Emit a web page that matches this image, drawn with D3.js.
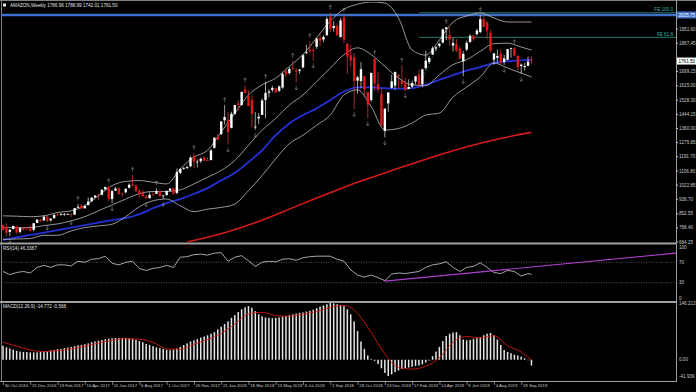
<!DOCTYPE html>
<html>
<head>
<meta charset="utf-8">
<script src="https://cdn.jsdelivr.net/npm/d3@7"></script>
<style>
  body { margin: 0; background: #000; }
  svg { display: block; }
  text { font-family: "Liberation Sans", Arial, sans-serif; }
</style>
</head>
<body>
<div id="chart"></div>
<script>
// ---- data ----
const symbolTitle = "AMAZON,Weekly  1766.96 1788.99 1742.01 1761.50";

const tickLabels = ["30 Oct 2016", "25 Dec 2016", "19 Feb 2017", "16 Apr 2017", "11 Jun 2017",
  "6 Aug 2017", "1 Oct 2017", "26 Nov 2017", "21 Jan 2018", "18 Mar 2018", "13 May 2018",
  "8 Jul 2018", "2 Sep 2018", "28 Oct 2018", "23 Dec 2018", "17 Feb 2019", "14 Apr 2019",
  "9 Jun 2019", "4 Aug 2019", "29 Sep 2019"];

// 1783.30 sits under the current-price box in the reference, so it is left out
const priceTicks = [1951.60, 1867.45, 1699.15, 1615.00, 1528.30, 1444.15, 1360.00,
  1275.85, 1191.70, 1106.80, 1022.85, 938.70, 852.55, 768.40, 684.25];
const rsiTicks = [100, 70, 30, 0];
const macdTicks = [146.213, 0, -41.939];

const opens = [785,774,745,762,777,745,770,763,766,757,
  798,815,813,835,813,826,848,850,847,851,
  851,847,888,899,885,904,927,950,962,966,
  998,1012,940,990,1005,973,980,1007,1028,1020,
  989,977,955,946,967,971,988,957,964,990,
  1004,976,1096,1120,1125,1135,1195,1160,1166,1187,
  1172,1172,1245,1310,1327,1409,1410,1364,1447,1510,
  1500,1592,1554,1530,1368,1420,1441,1530,1573,1590,
  1600,1585,1604,1702,1690,1720,1706,1703,1724,1812,
  1829,1827,1847,1898,1890,1915,2026,1958,1970,1904,
  2021,1864,1796,1784,1645,1643,1671,1577,1530,1775,
  1623,1566,1346,1510,1602,1615,1680,1644,1632,1595,
  1610,1640,1680,1623,1720,1757,1800,1836,1852,1872,
  1953,1917,1854,1862,1837,1760,1830,1876,1912,1922,
  1934,2010,1990,1930,1770,1781,1806,1757,1769,1837,
  1838,1793,1732,1725,1733,1766.96];
const highs = [789,795,760,781,777,770,772,774,782,797,
  821,823,843,843,824,848,858,858,856,854,
  853,887,911,910,906,949,950,961,971,999,
  1013,1016,996,1010,1010,976,1004,1033,1084,1030,
  1000,995,963,980,979,1004,990,965,990,1006,
  1005,1122,1122,1131,1140,1195,1214,1175,1187,1195,
  1190,1236,1308,1327,1403,1499,1458,1460,1500,1528,
  1579,1617,1587,1556,1459,1452,1539,1638,1594,1615,
  1603,1616,1699,1716,1725,1763,1720,1713,1802,1859,
  1880,1844,1901,1925,1916,2025,2050,1999,1985,2017,
  2033,1869,1856,1809,1673,1755,1673,1577,1694,1779,
  1696,1601,1480,1575,1680,1700,1680,1736,1665,1653,
  1645,1673,1710,1716,1823,1792,1850,1849,1870,1955,
  1964,1960,1900,1893,1849,1821,1883,1921,1917,1955,
  2035,2026,2001,1948,1809,1831,1833,1799,1834,1841,
  1844,1795,1748,1752,1788,1788.99];
const lows = [754,720,719,757,735,735,752,756,748,748,
  796,806,811,802,805,825,840,842,840,846,
  833,845,887,882,884,903,922,944,932,962,
  991,927,915,988,967,953,974,1003,1018,982,
  950,953,939,941,962,970,957,941,958,988,
  965,968,1088,1114,1117,1130,1124,1128,1154,1167,
  1166,1170,1241,1290,1320,1384,1265,1360,1442,1469,
  1496,1573,1495,1366,1352,1387,1441,1420,1545,1577,
  1572,1576,1596,1665,1680,1705,1635,1686,1718,1804,
  1813,1766,1834,1851,1874,1913,1935,1936,1911,1904,
  1868,1685,1725,1476,1568,1601,1545,1420,1518,1586,
  1574,1377,1307,1460,1598,1590,1602,1609,1587,1595,
  1600,1621,1608,1606,1710,1745,1800,1821,1841,1865,
  1885,1852,1819,1815,1772,1672,1821,1869,1880,1912,
  1927,1963,1892,1812,1740,1752,1745,1739,1766,1782,
  1790,1705,1685,1705,1732,1742.01];
const closes = [755,739,757,780,741,768,760,760,750,796,
  817,808,835,810,824,846,845,850,852,852,
  845,886,894,884,898,925,949,961,959,995,
  1012,942,987,1003,969,970,1001,1025,1020,987,
  968,958,946,965,965,987,956,961,989,1002,
  972,1100,1120,1125,1130,1187,1162,1163,1180,1168,
  1170,1230,1305,1294,1402,1429,1339,1448,1500,1500,
  1578,1571,1495,1447,1371,1430,1527,1572,1580,1602,
  1575,1610,1684,1683,1715,1715,1699,1711,1796,1813,
  1818,1823,1896,1883,1905,2012,1952,1970,1915,2003,
  1889,1788,1764,1642,1665,1713,1593,1502,1690,1629,
  1591,1377,1478,1575,1640,1696,1671,1626,1588,1607,
  1631,1671,1620,1712,1764,1780,1837,1843,1864,1950,
  1962,1889,1869,1823,1775,1804,1870,1912,1893,1943,
  2011,1964,1943,1823,1807,1792,1750,1777,1833,1839,
  1795,1725,1740,1732,1758,1761.50];

// indicator lines, sampled every 4 weeks
const lineIdx = [0,4,8,12,16,20,24,28,32,36,40,44,48,52,56,60,64,68,72,76,
  80,84,88,92,96,100,104,108,112,116,120,124,128,132,136,140,144,148,152,155];
const bbUpper = [840,838,835,840,860,870,900,960,1020,1045,1050,1040,1030,1120,1190,1230,1340,1450,1560,1620,
  1660,1730,1800,1900,2000,2070,2100,2113,2107,2018,1827,1797,1887,1994,2030,2048,2018,1994,1994,1994];
const bbMiddle = [770,770,770,782,792,810,835,870,905,940,972,985,985,995,1030,1070,1110,1170,1260,1350,
  1420,1500,1560,1640,1720,1800,1840,1800,1730,1660,1620,1615,1680,1740,1770,1820,1865,1868,1845,1827];
const bbLower = [700,702,705,724,724,750,770,780,790,835,894,930,940,900,865,880,890,910,990,1080,
  1180,1270,1320,1380,1440,1560,1590,1490,1351,1360,1393,1440,1452,1547,1607,1667,1750,1720,1690,1667];
const blueMA = [696,712,726,740,755,770,785,800,815,826,850,885,916,940,970,1005,1050,1095,1160,1230,
  1320,1390,1440,1480,1530,1580,1605,1605,1600,1597,1600,1620,1650,1678,1705,1726,1750,1760,1765,1768];
const redIdx = [54,60,66,72,78,84,90,96,102,108,114,120,126,132,138,144,150,155];
const redMA = [684,712,745,785,830,880,930,978,1025,1068,1110,1150,1190,1228,1262,1292,1318,1337];

const upFractals = [22,31,38,45,56,65,71,77,85,90,96,100,109,117,130,140,150];
const downFractals = [2,13,20,32,42,47,66,74,86,91,103,107,112,118,135,147,152];

const hLineLevel = 2035.75;
const feLevels = [{ name: "FE 100.0", value: 2049 }, { name: "FE 61.8", value: 1903 }];
const feStart = 122;
const feLeg = [{ i: 122, p: 1608 }, { i: 130, p: 1964 }];

const rsiIdx = [0,2,4,6,8,10,12,14,16,18,20,22,24,26,28,30,32,34,36,38,40,42,44,46,48,50,
  52,54,56,58,60,62,64,66,68,70,72,74,76,78,80,82,84,86,88,90,92,94,96,98,100,102,104,106,
  108,110,112,114,116,118,120,122,124,126,128,130,132,134,136,138,140,142,144,146,148,150,152,154,155];
const rsiValues = [52,46,50,52,49,60,64,60,65,65,63,72,70,76,77,82,68,65,70,72,58,54,58,60,64,60,
  80,81,85,86,84,88,89,72,80,83,73,62,70,72,71,76,77,74,79,81,82,82,82,76,72,55,45,41,
  45,40,34,47,49,48,50,52,60,65,67,71,60,52,60,62,69,60,50,48,54,52,43,48,46.3387];
const rsiTrend = [{ i: 112, v: 33 }, { i: 197.4, v: 88 }];

const macdHist = [36,32,29,26,23,21,20,20,19,19,
  19,20,21,22,24,25,27,28,30,31,
  33,35,37,38,40,42,45,47,49,51,
  53,54,55,56,56,56,56,55,54,51,
  48,45,41,38,35,32,30,28,26,25,
  26,29,33,38,42,47,50,53,57,60,
  63,67,71,78,85,92,99,108,115,123,
  130,135,138,134,125,117,112,109,108,107,
  108,109,111,113,115,117,119,121,122,124,
  126,129,133,137,140,143,146.213,145,143,141,
  138,130,117,99,74,47,28,11,2,-3,
  -11,-22,-34,-41.939,-38,-32,-28,-24,-22,-20,
  -18,-16,-15,-12,-7,-2,9,21,33,48,
  61,67,70,71,63,52,50,51,54,56,
  58,63,67,69,63,52,38,25,20,17,
  13,11,8,4,0,-14.772];
const signalIdx = lineIdx;
const macdSignal = [45,35,25,21,23,28,35,43,50,54,53,45,28,27,40,52,68,92,118,122,
  114,112,118,124,135,140,120,70,15,-20,-24,-17,5,45,60,56,62,36,20,-0.568];

// ---- layout ----
const W = 696, H = 392;
const plotLeft = 1, plotRight = 676;
const mainTop = 2, mainBottom = 243;
const rsiTop = 245, rsiBottom = 301;
const macdTop = 303, macdBottom = 381;
const grey = "#c8c8c8";
const fs = 4.6;

const x = d3.scaleLinear().domain([0, 197.4]).range([3, plotRight]);
const yMain = d3.scaleLinear().domain([684.25, 2035.75]).range([242, 15]);
const yRsi = d3.scaleLinear().domain([0, 100]).range([298, 247]);
const yMacd = d3.scaleLinear().domain([-41.939, 146.213]).range([376, 303]);

const svg = d3.select("#chart").append("svg")
  .attr("width", W).attr("height", H)
  .style("background", "#000");

const defs = svg.append("defs");
[["clipMain", mainTop, mainBottom], ["clipRsi", rsiTop, rsiBottom], ["clipMacd", macdTop, macdBottom]]
  .forEach(([id, t, b]) => {
    defs.append("clipPath").attr("id", id).append("rect")
      .attr("x", plotLeft).attr("y", t).attr("width", plotRight - plotLeft).attr("height", b - t);
  });

// frame and panel separators
svg.append("line").attr("x1", 0).attr("x2", W).attr("y1", 0.5).attr("y2", 0.5).attr("stroke", "#808080");
svg.append("line").attr("x1", 1.5).attr("x2", 1.5).attr("y1", 0).attr("y2", macdBottom).attr("stroke", "#808080");
svg.append("line").attr("x1", plotRight + 0.5).attr("x2", plotRight + 0.5).attr("y1", 0).attr("y2", macdBottom)
  .attr("stroke", "#a0a0a0");
[mainBottom + 0.5, rsiBottom + 1].forEach(yy => {
  svg.append("line").attr("x1", 0).attr("x2", plotRight + 1).attr("y1", yy).attr("y2", yy)
    .attr("stroke", "#a0a0a0").attr("stroke-width", 2);
});
svg.append("line").attr("x1", 0).attr("x2", plotRight + 1).attr("y1", macdBottom + 0.5).attr("y2", macdBottom + 0.5)
  .attr("stroke", "#a0a0a0");

// ---- main panel ----
const main = svg.append("g").attr("clip-path", "url(#clipMain)");

// horizontal price line and fibo expansion levels
main.append("line")
  .attr("x1", plotLeft).attr("x2", plotRight)
  .attr("y1", yMain(hLineLevel)).attr("y2", yMain(hLineLevel))
  .attr("stroke", "#3f6fc6").attr("stroke-width", 2.5);

feLevels.forEach(lv => {
  main.append("line")
    .attr("x1", x(feStart)).attr("x2", plotRight)
    .attr("y1", yMain(lv.value)).attr("y2", yMain(lv.value))
    .attr("stroke", "#2f9a8f").attr("stroke-width", 0.8);
  main.append("text")
    .attr("x", plotRight - 3).attr("y", yMain(lv.value) - 1.5)
    .attr("text-anchor", "end").attr("font-size", fs).attr("fill", "#3fb0a0")
    .text(lv.name);
});
main.append("path")
  .datum(feLeg)
  .attr("fill", "none").attr("stroke", "#2f9a6f").attr("stroke-width", 0.8)
  .attr("stroke-dasharray", "1,1.5")
  .attr("d", d3.line().x(d => x(d.i)).y(d => yMain(d.p)));

// moving averages and bands
function drawLine(g, idx, vals, yScale, color, width) {
  const pts = idx.map((i, k) => [x(i), yScale(vals[k])]);
  g.append("path")
    .attr("fill", "none").attr("stroke", color).attr("stroke-width", width)
    .attr("d", d3.line().curve(d3.curveMonotoneX)(pts));
}
drawLine(main, redIdx, redMA, yMain, "#d41a1a", 1.6);
drawLine(main, lineIdx, blueMA, yMain, "#2431d8", 1.8);
drawLine(main, lineIdx, bbUpper, yMain, "#bdbdbd", 0.8);
drawLine(main, lineIdx, bbMiddle, yMain, "#bdbdbd", 0.8);
drawLine(main, lineIdx, bbLower, yMain, "#bdbdbd", 0.8);

// candles
const bodyW = 2.4;
const candles = main.append("g");
opens.forEach((o, i) => {
  const c = closes[i];
  const up = c >= o;
  const col = up ? "#ffffff" : "#e01818";
  candles.append("line")
    .attr("x1", x(i)).attr("x2", x(i))
    .attr("y1", yMain(highs[i])).attr("y2", yMain(lows[i]))
    .attr("stroke", up ? "#e8e8e8" : "#e04040").attr("stroke-width", 0.7);
  const top = yMain(Math.max(o, c));
  const h = Math.max(0.8, Math.abs(yMain(o) - yMain(c)));
  candles.append("rect")
    .attr("x", x(i) - bodyW / 2).attr("y", top)
    .attr("width", bodyW).attr("height", h)
    .attr("fill", col);
});

// fractal arrows
const arrowUp = "M0,-2.5L-1.5,-0.5M0,-2.5L1.5,-0.5M0,-2.5V2";
main.selectAll(".fup").data(upFractals).join("path")
  .attr("class", "fup")
  .attr("transform", i => `translate(${x(i)},${yMain(highs[i]) - 5})`)
  .attr("d", arrowUp).attr("stroke", "#a0a0a0").attr("stroke-width", 0.5).attr("fill", "none");
main.selectAll(".fdn").data(downFractals).join("path")
  .attr("class", "fdn")
  .attr("transform", i => `translate(${x(i)},${yMain(lows[i]) + 5}) rotate(180)`)
  .attr("d", arrowUp).attr("stroke", "#a0a0a0").attr("stroke-width", 0.5).attr("fill", "none");

// title
svg.append("rect").attr("x", 3).attr("y", 3.5).attr("width", 3).attr("height", 3).attr("fill", "#e0e0e0");
svg.append("text").attr("x", 10).attr("y", 7).attr("font-size", fs).attr("fill", "#e0e0e0").text(symbolTitle);

// right price axis
const axisG = svg.append("g");
priceTicks.forEach(v => {
  const yy = yMain(v);
  axisG.append("line").attr("x1", plotRight).attr("x2", plotRight + 2).attr("y1", yy).attr("y2", yy).attr("stroke", grey);
  axisG.append("text").attr("x", plotRight + 3).attr("y", yy + 1.6)
    .attr("font-size", fs).attr("fill", grey).text(v.toFixed(2));
});
// highlighted line price and current price
function priceBox(v, bg, fg) {
  const yy = yMain(v);
  axisG.append("rect").attr("x", plotRight + 1).attr("y", yy - 3.5).attr("width", 19).attr("height", 7).attr("fill", bg);
  axisG.append("text").attr("x", plotRight + 2.5).attr("y", yy + 1.6)
    .attr("font-size", fs).attr("fill", fg).text(v.toFixed(2));
}
priceBox(hLineLevel, "#3f6fc6", "#ffffff");
priceBox(closes[closes.length - 1], "#ffffff", "#000000");

// ---- RSI panel ----
const rsiG = svg.append("g").attr("clip-path", "url(#clipRsi)");
[70, 30].forEach(v => {
  rsiG.append("line").attr("x1", plotLeft).attr("x2", plotRight)
    .attr("y1", yRsi(v)).attr("y2", yRsi(v))
    .attr("stroke", "#8a8a8a").attr("stroke-width", 0.6).attr("stroke-dasharray", "1,1.5");
});
rsiG.append("path")
  .attr("fill", "none").attr("stroke", "#d0d0d0").attr("stroke-width", 0.8)
  .attr("d", d3.line()(rsiIdx.map((i, k) => [x(i), yRsi(rsiValues[k])])));
rsiG.append("path")
  .datum(rsiTrend)
  .attr("fill", "none").attr("stroke", "#b040d0").attr("stroke-width", 1.1)
  .attr("d", d3.line().x(d => x(d.i)).y(d => yRsi(d.v)));
svg.append("text").attr("x", 3).attr("y", 250).attr("font-size", fs).attr("fill", "#e0e0e0")
  .text("RSI(14) " + rsiValues[rsiValues.length - 1].toFixed(4));
rsiTicks.forEach(v => {
  svg.append("text").attr("x", plotRight + 3).attr("y", yRsi(v) + 1.6)
    .attr("font-size", fs).attr("fill", grey).text(v);
});

// ---- MACD panel ----
const macdG = svg.append("g").attr("clip-path", "url(#clipMacd)");
macdG.selectAll("rect").data(macdHist).join("rect")
  .attr("x", (d, i) => x(i) - 0.75)
  .attr("y", d => Math.min(yMacd(d), yMacd(0)))
  .attr("width", 1.5)
  .attr("height", d => Math.max(0.5, Math.abs(yMacd(d) - yMacd(0))))
  .attr("fill", "#e6e6e6");
drawLine(macdG, signalIdx, macdSignal, yMacd, "#d01818", 0.9);
svg.append("text").attr("x", 3).attr("y", 308).attr("font-size", fs).attr("fill", "#e0e0e0")
  .text("MACD(12,26,9) " + macdHist[macdHist.length - 1].toFixed(3) + " " + macdSignal[macdSignal.length - 1].toFixed(3));
macdTicks.forEach(v => {
  svg.append("text").attr("x", plotRight + 3).attr("y", yMacd(v) + 1.6)
    .attr("font-size", fs).attr("fill", grey).text(v === 0 ? "0.00" : v.toFixed(3));
});

// ---- time axis ----
const tickIdx = tickLabels.map((_, k) => k * 8);
const xAxis = d3.axisBottom(x)
  .tickValues(tickIdx)
  .tickFormat((d, k) => tickLabels[k])
  .tickSize(4).tickSizeOuter(0);
const xg = svg.append("g").attr("transform", `translate(0,${macdBottom})`).call(xAxis);
xg.select(".domain").remove();
xg.selectAll("line").attr("stroke", grey).attr("stroke-width", 0.6);
xg.selectAll("text")
  .attr("fill", grey).attr("font-size", 4.3)
  .attr("text-anchor", "start").attr("dx", 1.2).attr("y", 4.5).attr("dy", 1.8)
  .attr("font-family", "Liberation Sans, Arial, sans-serif");
</script>
</body>
</html>
